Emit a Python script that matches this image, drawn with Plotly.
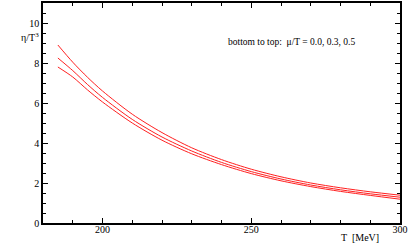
import plotly.graph_objects as go

# temperature grid [MeV]
T = [185, 190, 195, 200, 210, 220, 230, 240, 250, 260, 270, 280, 290, 300]

# eta/T^3 for mu/T = 0.0, 0.3, 0.5 (bottom to top)
eta_mu00 = [7.80, 7.30, 6.65, 6.05, 5.00, 4.14, 3.46, 2.92, 2.47, 2.11, 1.82, 1.58, 1.38, 1.19]
eta_mu03 = [8.25, 7.62, 6.92, 6.28, 5.18, 4.30, 3.60, 3.03, 2.57, 2.20, 1.90, 1.66, 1.46, 1.29]
eta_mu05 = [8.90, 8.04, 7.28, 6.60, 5.44, 4.52, 3.76, 3.17, 2.69, 2.31, 2.00, 1.76, 1.56, 1.39]

font = "Liberation Serif, Times New Roman, serif"

fig = go.Figure()
for ys in (eta_mu00, eta_mu03, eta_mu05):
    fig.add_trace(go.Scatter(x=T, y=ys, mode="lines",
                             line=dict(color="#ff2020", width=1, shape="spline", smoothing=0.8),
                             showlegend=False, hoverinfo="skip"))

axis_common = dict(showline=True, linecolor="black", linewidth=1.5, mirror="ticks",
                   ticks="inside", ticklen=5, tickcolor="black", tickwidth=1,
                   showgrid=False, zeroline=False,
                   tickfont=dict(family=font, size=10, color="black"))

fig.update_xaxes(range=[180, 300], tick0=200, dtick=50, ticklabelstandoff=-4,
                 minor=dict(dtick=10, ticks="inside", ticklen=3, tickcolor="black"),
                 **axis_common)
fig.update_yaxes(range=[0, 11], tick0=0, dtick=2,
                 minor=dict(dtick=0.5, ticks="inside", ticklen=3, tickcolor="black"),
                 **axis_common)

fig.add_annotation(text="η/T<sup>3</sup>", xref="paper", yref="paper", x=-0.067, y=0.88,
                   showarrow=False, font=dict(family=font, size=10, color="black"))
fig.add_annotation(text="T  [MeV]", xref="x", yref="paper", x=286.5, y=-0.068,
                   yanchor="middle", showarrow=False,
                   font=dict(family=font, size=10, color="black"))
fig.add_annotation(text="bottom to top:  μ/T = 0.0, 0.3, 0.5", xref="x", yref="y",
                   x=263.5, y=9.05, showarrow=False,
                   font=dict(family=font, size=9.5, color="black"))

fig.update_layout(width=409, height=243, margin=dict(l=43, r=8, t=1, b=20),
                  paper_bgcolor="white", plot_bgcolor="white")

# page body has a default 8px margin, drop it so the figure sits at the corner
fig.write_html("out.html", config={"displayModeBar": False},
               post_script="document.body.style.margin='0';")
